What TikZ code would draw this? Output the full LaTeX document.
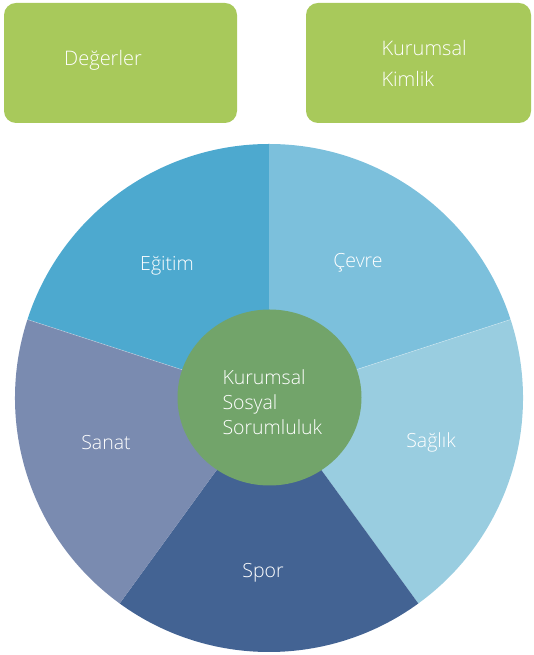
\documentclass[tikz,border=0pt]{standalone}
\usepackage{fontspec}
\setmainfont{Open Sans}[UprightFont={* Light}]
\definecolor{boxgreen}{HTML}{A8C95B}
\definecolor{cEgitim}{HTML}{4DA9CF}
\definecolor{cCevre}{HTML}{7CC0DC}
\definecolor{cSaglik}{HTML}{99CDE0}
\definecolor{cSpor}{HTML}{436393}
\definecolor{cSanat}{HTML}{7A8BB0}
\definecolor{cCenter}{HTML}{72A46A}
\begin{document}
\begin{tikzpicture}[x=1pt,y=1pt,
  topbox/.style={fill=boxgreen, rounded corners=12pt, draw=none},
  lbl/.style={text=white, font=\fontsize{19.5}{25}\selectfont},
  toplbl/.style={text=white, font=\fontsize{20}{30.5}\selectfont, align=left},
  sep/.style={draw=white, draw opacity=0.35, line width=0.6pt}]
\useasboundingbox (0,0) rectangle (534,655);
% top boxes
\fill[topbox] (4,532) rectangle (237,652);
\fill[topbox] (306,532) rectangle (531,652);
\node[toplbl] (deg) at (103,595) {Değerler};
\node[toplbl, anchor=west] (kim) at (378,591.5) {Kurumsal\\Kimlik};
% pie
\coordinate (c) at (269,257);
\def\R{254}
\fill[cEgitim] (c) -- ++(90:\R) arc[start angle=90, end angle=162, radius=\R] -- cycle;
\fill[cCevre] (c) -- ++(18:\R) arc[start angle=18, end angle=90, radius=\R] -- cycle;
\fill[cSaglik] (c) -- ++(-54:\R) arc[start angle=-54, end angle=18, radius=\R] -- cycle;
\fill[cSpor] (c) -- ++(-126:\R) arc[start angle=-126, end angle=-54, radius=\R] -- cycle;
\fill[cSanat] (c) -- ++(162:\R) arc[start angle=162, end angle=234, radius=\R] -- cycle;
\draw[sep] (c) -- ++(18:\R);
\draw[sep] (c) -- ++(162:\R);
% centre
\fill[cCenter] (269.5,257.5) ellipse[x radius=92, y radius=88];
\node[lbl, align=left, anchor=west] (ksr) at (219,252.5) {Kurumsal\\Sosyal\\Sorumluluk};
% labels
\node[lbl] (egitim) at (167,389) {Eğitim};
\node[lbl] (cevre) at (358,392) {Çevre};
\node[lbl] (saglik) at (431,213) {Sağlık};
\node[lbl] (spor) at (263,82) {Spor};
\node[lbl] (sanat) at (106,212) {Sanat};
\end{tikzpicture}
\end{document}
